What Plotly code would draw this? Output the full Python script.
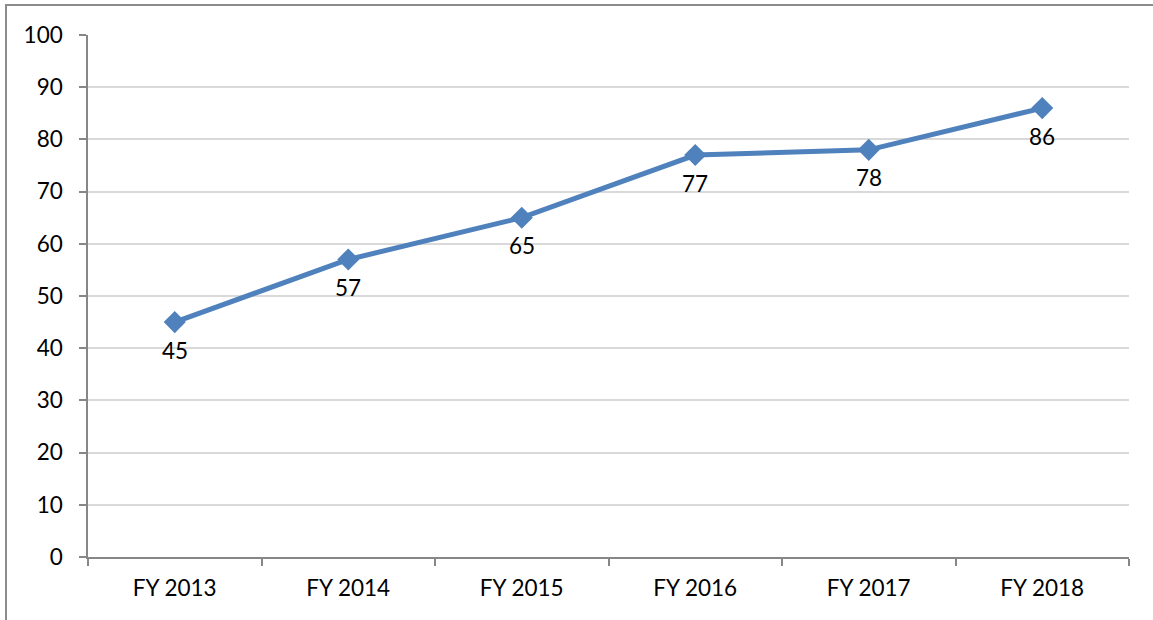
import plotly.graph_objects as go

categories = ["FY 2013", "FY 2014", "FY 2015", "FY 2016", "FY 2017", "FY 2018"]
values = [45, 57, 65, 77, 78, 86]
y_ticks = [0, 10, 20, 30, 40, 50, 60, 70, 80, 90, 100]

FONT = "Lato, Carlito, 'Open Sans', sans-serif"
LINE_COLOR = "#4F81BD"
FS = 22.5

fig = go.Figure()
fig.add_trace(go.Scatter(
    x=categories, y=values,
    mode="lines+markers",
    line=dict(color=LINE_COLOR, width=5),
    marker=dict(symbol="diamond", size=17, color=LINE_COLOR),
    cliponaxis=False,
    showlegend=False,
))

annotations = [
    dict(x=c, y=v, xref="x", yref="y", text=str(v), showarrow=False,
         yshift=-28, font=dict(family=FONT, size=FS, color="#000000"))
    for c, v in zip(categories, values)
]

L, R, T, B = 88, 24, 35, 63
W, H = 1153, 620
pw, ph = W - L - R, H - T - B

fig.update_layout(
    width=W, height=H,
    margin=dict(l=L, r=R, t=T, b=B),
    paper_bgcolor="white", plot_bgcolor="white",
    font=dict(family=FONT, size=FS, color="#000000"),
    xaxis=dict(
        type="category", range=[-0.5, len(categories) - 0.5],
        showgrid=False, showline=True, linecolor="#878787", linewidth=1.5,
        ticks="outside", tickson="boundaries", ticklen=7, tickcolor="#878787", tickwidth=1.5,
        tickfont=dict(family=FONT, size=FS), fixedrange=True, ticklabelstandoff=10,
    ),
    yaxis=dict(
        range=[0, 100], tickvals=y_ticks,
        showgrid=True, gridcolor="#D9D9D9", gridwidth=1.5,
        showline=True, linecolor="#878787", linewidth=1.5,
        ticks="outside", ticklen=7, tickcolor="#878787", tickwidth=1.5,
        tickfont=dict(family=FONT, size=FS), zeroline=False, fixedrange=True,
        ticklabelstandoff=12,
    ),
    annotations=annotations,
    shapes=[dict(
        type="rect", xref="paper", yref="paper",
        x0=(6 - L) / pw, x1=(W + 10 - L) / pw,
        y0=-(H + 10 - (T + ph)) / ph, y1=1 + (T - 5) / ph,
        line=dict(color="#8C8C8C", width=2), fillcolor="rgba(0,0,0,0)", layer="below",
    )],
)

fig.write_html("out.html", config={"displayModeBar": False},
               post_script="document.body.style.margin='0';")
